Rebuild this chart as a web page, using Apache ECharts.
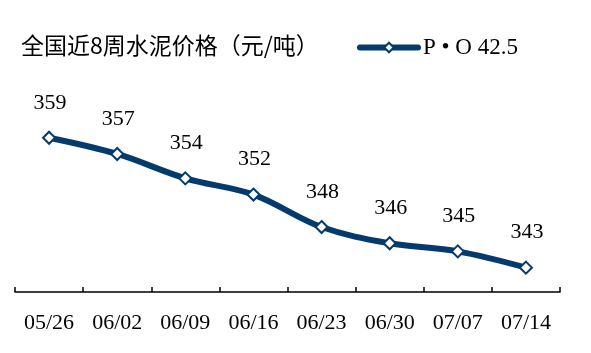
<!DOCTYPE html>
<html><head><meta charset="utf-8">
<script src="https://cdn.jsdelivr.net/npm/echarts@6/dist/echarts.min.js"></script>
<style>html,body{margin:0;padding:0;background:#fff}#c{width:591px;height:353px}</style>
</head><body><div id="c"></div>
<script>
const categories = ['05/26','06/02','06/09','06/16','06/23','06/30','07/07','07/14'];
const values = [359, 357, 354, 352, 348, 346, 345, 343];
const seriesName = 'P • O 42.5';
const titleText = '全国近8周水泥价格（元/吨）';

const navy = '#043a6c';
const chart = echarts.init(document.getElementById('c'));
chart.setOption({
  animation: false,
  title: {
    text: titleText, left: 16, top: 29,
    textStyle: { fontFamily: 'Noto Sans CJK SC', fontWeight: 'normal', fontSize: 23, color: '#000' }
  },
  legend: {
    left: 352, top: 31, itemWidth: 58, itemHeight: 12, itemGap: 5,
    textStyle: { fontFamily: 'Liberation Serif', fontSize: 23, color: '#000' },
    data: [{ name: seriesName, lineStyle: { width: 6, color: navy, cap: 'round' } }]
  },
  grid: { left: 15, right: 31, top: 128, bottom: 61 },
  xAxis: {
    type: 'category', data: categories, boundaryGap: true,
    axisLine: { lineStyle: { color: '#000', width: 1.5 } },
    axisTick: { show: true, inside: true, length: 5, interval: 0, lineStyle: { color: '#000', width: 1.5 } },
    axisLabel: { fontFamily: 'Liberation Serif', fontSize: 22, color: '#000', margin: 20, interval: 0 }
  },
  yAxis: {
    type: 'value', min: 340, max: 360.2, show: false, splitLine: { show: false }
  },
  series: [{
    name: seriesName, type: 'line', data: values, smooth: 0.35,
    symbol: 'diamond', symbolSize: 12,
    lineStyle: { color: navy, width: 6 },
    itemStyle: { color: '#fff', borderColor: navy, borderWidth: 2 },
    label: {
      show: true, position: 'top', distance: 17, offset: [1, 0],
      fontFamily: 'Liberation Serif', fontSize: 22, color: '#000'
    }
  }]
});
</script></body></html>
